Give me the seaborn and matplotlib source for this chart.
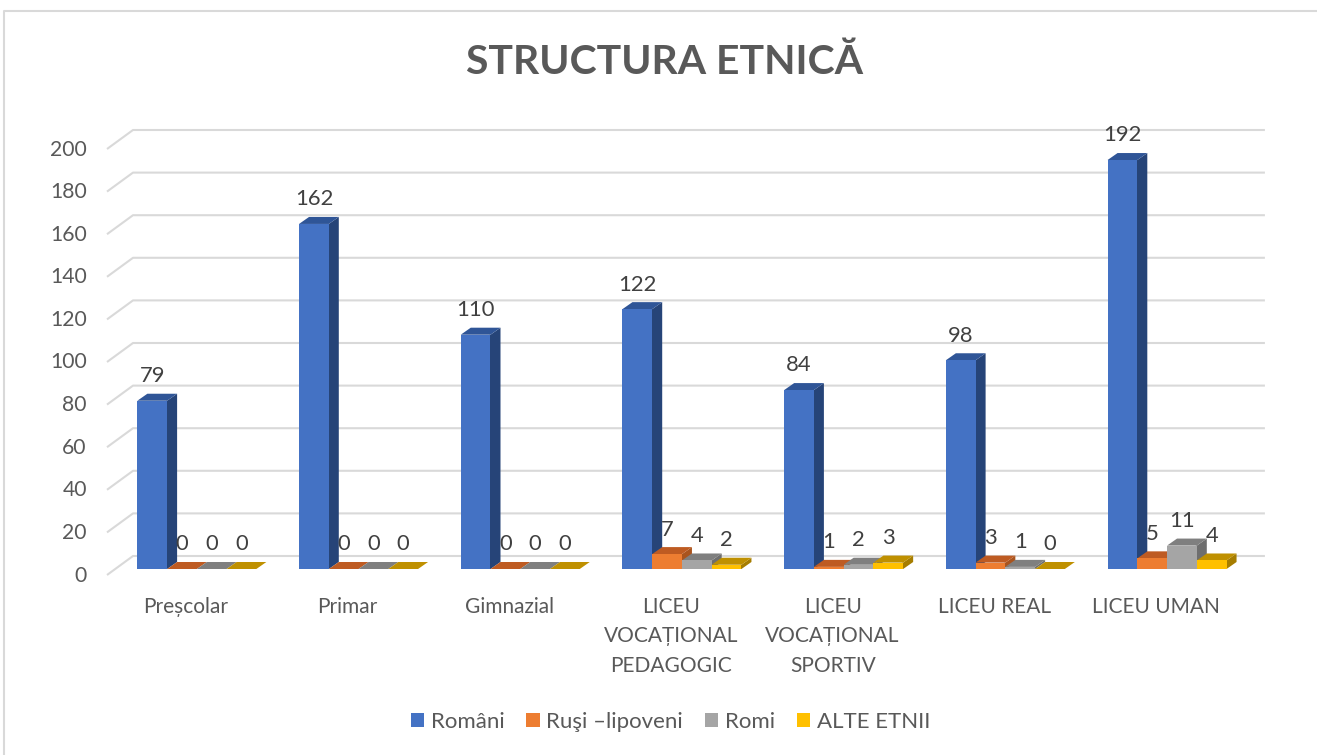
import pandas as pd
import matplotlib
matplotlib.use('Agg')
import matplotlib.pyplot as plt
from matplotlib.lines import Line2D
from matplotlib.patches import Polygon, Rectangle
from matplotlib.transforms import ScaledTranslation
import seaborn as sns

categories = ['Preșcolar', 'Primar', 'Gimnazial', 'LICEU\nVOCAȚIONAL\nPEDAGOGIC',
              'LICEU\nVOCAȚIONAL\nSPORTIV', 'LICEU REAL', 'LICEU UMAN']
romani = [79, 162, 110, 122, 84, 98, 192]
rusi = [0, 0, 0, 7, 1, 3, 5]
romi = [0, 0, 0, 4, 2, 1, 11]
alte = [0, 0, 0, 2, 3, 0, 4]
series_names = ['Români', 'Ruşi –lipoveni', 'Romi', 'ALTE ETNII']
front_colors = ['#4472C4', '#ED7D31', '#A5A5A5', '#FFC000']
top_colors = ['#2F5597', '#BE5B22', '#7F7F7F', '#BF9000']
side_colors = ['#264478', '#A9541E', '#6E6E6E', '#A67D00']
yticks = list(range(0, 201, 20))

W, H = 1317, 755
PX_X = 161.7  # px per category
PX_Y = 2.13  # px per unit


def add_depth(ax, bar, top, side, z):
    """Draws the top and the side face of a bar, so it looks like Excel 3D."""
    dx, dy = 10 / PX_X, 7 / PX_Y
    x0, x1 = bar.get_x(), bar.get_x() + bar.get_width()
    y = bar.get_height()
    # side starts a pixel under the front face, otherwise a light seam shows
    seam = 1 / PX_X
    ax.add_patch(Polygon([(x1 - seam, 0), (x1, 0), (x1 + dx, dy), (x1 + dx, y + dy), (x1, y), (x1 - seam, y)],
                         fc=side, ec='none', lw=0, zorder=z, clip_on=False))
    ax.add_patch(Polygon([(x0, y), (x1, y), (x1 + dx, y + dy), (x0 + dx, y + dy)],
                         fc=top, ec='none', lw=0, zorder=z, clip_on=False))
    bar.set_zorder(z + 0.01)


df = pd.DataFrame({'cat': categories, series_names[0]: romani, series_names[1]: rusi,
                   series_names[2]: romi, series_names[3]: alte})
long_df = df.melt(id_vars='cat', var_name='etnie', value_name='n')

sns.set_theme(style='white')
plt.rcParams['font.family'] = ['Lato', 'DejaVu Sans']
text_color = '#595959'

fig = plt.figure(figsize=(W / 100, H / 100), dpi=100)
ax = fig.add_axes([116 / W, (H - 569) / H, 7 * PX_X / W, 426 / H])
sns.barplot(data=long_df, x='cat', y='n', hue='etnie', hue_order=series_names,
            palette=front_colors, width=119 / PX_X, gap=0, saturation=1, legend=False,
            linewidth=0, edgecolor='none', ax=ax)
ax.set_ylim(0, 200)
ax.set_xlim(-0.5, 6.5)
ax.set_xlabel('')
ax.set_ylabel('')
sns.despine(ax=ax, left=True, bottom=True, top=True, right=True)

# walls: short front stub and long back line
back_x, back_y = 17 / PX_X, 13 / PX_Y
front_x, front_y = -9 / PX_X, -6 / PX_Y
for v in yticks:
    ax.plot([-0.5 + front_x, -0.5 + back_x, 6.5 + back_x],
            [v + front_y, v + back_y, v + back_y],
            color='#D9D9D9', lw=1.5, zorder=0.5, clip_on=False, solid_capstyle='butt')

for i, container in enumerate(ax.containers):
    for bar in container:
        add_depth(ax, bar, top_colors[i], side_colors[i], 2 + i * 0.1)
    ax.bar_label(container, fmt='%d', padding=10.5, fontsize=15.8, color='#404040', zorder=5)

ax.set_yticks(yticks)
ax.tick_params(axis='y', length=0, pad=21, labelsize=15.2, labelcolor=text_color)
ax.tick_params(axis='x', length=0, pad=20, labelsize=15, labelcolor=text_color)
for lab in ax.get_xticklabels():
    lab.set_transform(lab.get_transform() + ScaledTranslation(-11 / 100, 0, fig.dpi_scale_trans))
    lab.set_linespacing(1.6)
for lab in ax.get_yticklabels():
    lab.set_transform(lab.get_transform() + ScaledTranslation(0, -4.5 / 100, fig.dpi_scale_trans))

fig.text(665 / W, (H - 63) / H, 'STRUCTURA ETNICĂ', ha='center', va='center',
         fontsize=29.4, fontweight='bold', color=text_color)

handles = [Rectangle((0, 0), 1, 1, fc=c, ec='none') for c in front_colors]
fig.legend(handles, series_names, loc='center', bbox_to_anchor=(670.5 / W, (H - 722) / H), ncol=4,
           frameon=False, fontsize=16, labelcolor=text_color, handlelength=0.6, handleheight=0.6,
           handletextpad=0.3, columnspacing=0.98)

# chart area border, only top and left are visible in the picture
fig.add_artist(Line2D([4 / W, 4 / W, 1], [0, (H - 11) / H, (H - 11) / H],
                      transform=fig.transFigure, color='#D9D9D9', lw=1.5))
fig.savefig('out.png', dpi=100)
